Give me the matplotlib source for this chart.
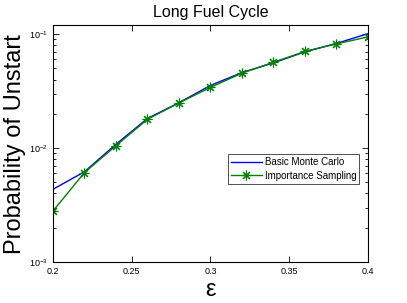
import matplotlib
matplotlib.use("Agg")
import matplotlib.pyplot as plt

plt.rcParams['font.family'] = ['Liberation Sans', 'DejaVu Sans']

eps = [0.20, 0.22, 0.24, 0.26, 0.28, 0.30, 0.32, 0.34, 0.36, 0.38, 0.40]
basic_mc = [0.00435, 0.0062, 0.0108, 0.0182, 0.0250, 0.0355, 0.0460, 0.0560, 0.0700, 0.0830, 0.101]
imp_samp = [0.0028, 0.0061, 0.0105, 0.0179, 0.0249, 0.0341, 0.0455, 0.0567, 0.0705, 0.0822, 0.0946]
xticks = [0.2, 0.25, 0.3, 0.35, 0.4]
xticklabels = ['0.2', '0.25', '0.3', '0.35', '0.4']

fig = plt.figure(figsize=(4.07, 3.03), dpi=100)
ax = fig.add_axes([0.130, 0.135, 0.774, 0.782])
ax.semilogy(eps, basic_mc, color='#0000ff', lw=1.0, label='Basic Monte Carlo')
ax.semilogy(eps, imp_samp, color='#008000', lw=1.0, marker=(8, 2, 0), ms=7,
            mew=0.8, label='Importance Sampling')
ax.set_xlim(0.2, 0.4)
ax.set_ylim(1e-3, 0.12)
ax.set_xticks(xticks)
ax.set_xticklabels(xticklabels)
ax.tick_params(which='both', direction='in', top=True, right=True, labelsize=6.5, width=0.6)
ax.tick_params(which='major', length=4)
ax.tick_params(which='minor', length=2)
for s in ax.spines.values():
    s.set_linewidth(0.8)
ax.set_title('Long Fuel Cycle', fontsize=11.5, pad=6)
ax.set_ylabel('Probability of Unstart', fontsize=17, labelpad=2)
ax.set_xlabel('ε', fontsize=17, labelpad=2)
leg = ax.legend(loc='upper left', bbox_to_anchor=(0.54, 0.475), fontsize=7,
                fancybox=False, edgecolor='#333333', framealpha=1,
                borderpad=0.3, labelspacing=0.35, handlelength=3.2, handletextpad=0.3)
leg.get_frame().set_linewidth(0.6)
fig.savefig('out.png', dpi=100)
